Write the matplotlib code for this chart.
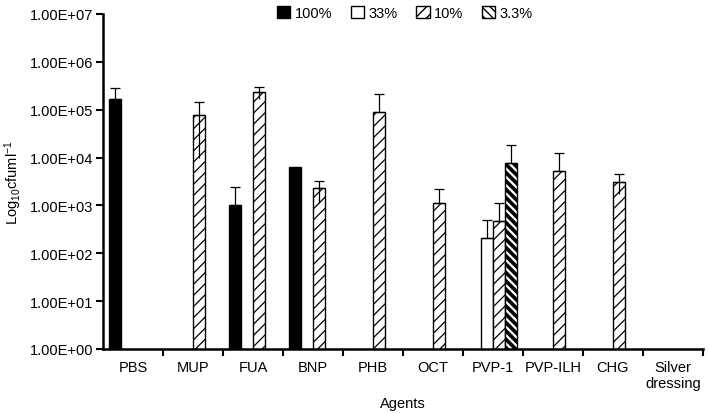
import numpy as np
import matplotlib
matplotlib.use("Agg")
import matplotlib.pyplot as plt

plt.rcParams['font.family'] = ['Liberation Sans', 'DejaVu Sans']
plt.rcParams['mathtext.fontset'] = 'custom'
plt.rcParams['mathtext.rm'] = 'Liberation Sans'
plt.rcParams['mathtext.it'] = 'Liberation Sans'

agents = ["PBS", "MUP", "FUA", "BNP", "PHB", "OCT", "PVP-1", "PVP-ILH", "CHG", "Silver\ndressing"]
series = ["100%", "33%", "10%", "3.3%"]
nan = np.nan

# mean counts (cfu/ml) per agent, one list per concentration
v100 = [1.7e5, nan, 1.03e3, 6.4e3, nan, nan, nan, nan, nan, nan]
v33 = [nan, nan, nan, nan, nan, nan, 2.1e2, nan, nan, nan]
v10 = [nan, 7.8e4, 2.3e5, 2.28e3, 8.8e4, 1.12e3, 4.8e2, 5.25e3, 3.13e3, nan]
v3 = [nan, nan, nan, nan, nan, nan, 7.6e3, nan, nan, nan]

# upper error
e100 = [1.1e5, 0, 1.4e3, 0, 0, 0, 0, 0, 0, 0]
e33 = [0, 0, 0, 0, 0, 0, 2.9e2, 0, 0, 0]
e10 = [0, 6.9e4, 6.5e4, 1.0e3, 1.3e5, 1.05e3, 6.4e2, 7.4e3, 1.4e3, 0]
e3 = [0, 0, 0, 0, 0, 0, 1.05e4, 0, 0, 0]
# lower error where it shows
l10 = [0, 6.8e4, 6.5e4, 1.18e3, 0, 0, 0, 0, 1.4e3, 0]

fig = plt.figure(figsize=(7.09, 4.14), dpi=100)
ax = fig.add_axes([0.1453, 0.1546, 0.8462, 0.8092])

x = np.arange(len(agents))
w = 0.2
styles = [
    dict(color="black", hatch=None, lw=1.0),
    dict(color="white", hatch=None, lw=1.0),
    dict(color="white", hatch="///", lw=0.9),
    dict(color="white", hatch="\\\\\\\\", lw=2.6),
]
vals = [v100, v33, v10, v3]
errs = [e100, e33, e10, e3]
handles = []
for i, (v, e, st) in enumerate(zip(vals, errs, styles)):
    pos = x + (i - 1.5) * w
    with plt.rc_context({'hatch.linewidth': st['lw']}):
        b = ax.bar(pos, v, w, color=st['color'], edgecolor='black',
                   hatch=st['hatch'], linewidth=1.0, label=series[i], zorder=2)
    handles.append(b)
    v = np.array(v)
    e = np.array(e)
    m = ~np.isnan(v) & (e > 0)
    ax.errorbar(pos[m], v[m], yerr=[np.zeros(m.sum()), e[m]], fmt='none',
                ecolor='black', elinewidth=0.9, capsize=3.5, capthick=0.9, zorder=3)

pos10 = x + 0.5 * w
l10 = np.array(l10)
m = l10 > 0
ax.errorbar(pos10[m], np.array(v10)[m], yerr=[l10[m], np.zeros(m.sum())], fmt='none',
            ecolor='black', elinewidth=0.9, capsize=0, zorder=3)

ax.set_yscale('log')
ax.set_ylim(1, 1e7)
ax.set_xlim(-0.5, 9.5)
ax.set_yticks([10.0 ** k for k in range(8)])
ax.set_yticklabels(["1.00E+%02d" % k for k in range(8)])
ax.yaxis.set_minor_locator(matplotlib.ticker.NullLocator())
ax.set_xticks(x)
ax.set_xticklabels(agents)
ax.set_xticks(np.arange(0.5, 10, 1), minor=True)
ax.tick_params(axis='x', which='major', length=0, labelsize=10.5, pad=8)
ax.tick_params(axis='x', which='minor', length=5, width=1.5)
ax.tick_params(axis='y', length=5, width=1.5, labelsize=10.5, pad=2)

for s in ['top', 'right']:
    ax.spines[s].set_visible(False)
for s in ['left', 'bottom']:
    ax.spines[s].set_linewidth(1.8)

ax.set_xlabel("Agents", fontsize=10.5, labelpad=4)
ax.set_ylabel("Log$_{10}$cfuml$^{-1}$", fontsize=10.5, labelpad=4)

fig.legend(handles=handles, labels=series, loc='center', bbox_to_anchor=(0.571, 0.966),
           ncol=4, frameon=False, fontsize=10.5, handlelength=0.9, handleheight=0.9,
           handletextpad=0.3, columnspacing=1.3)

fig.savefig("out.png", dpi=100)
